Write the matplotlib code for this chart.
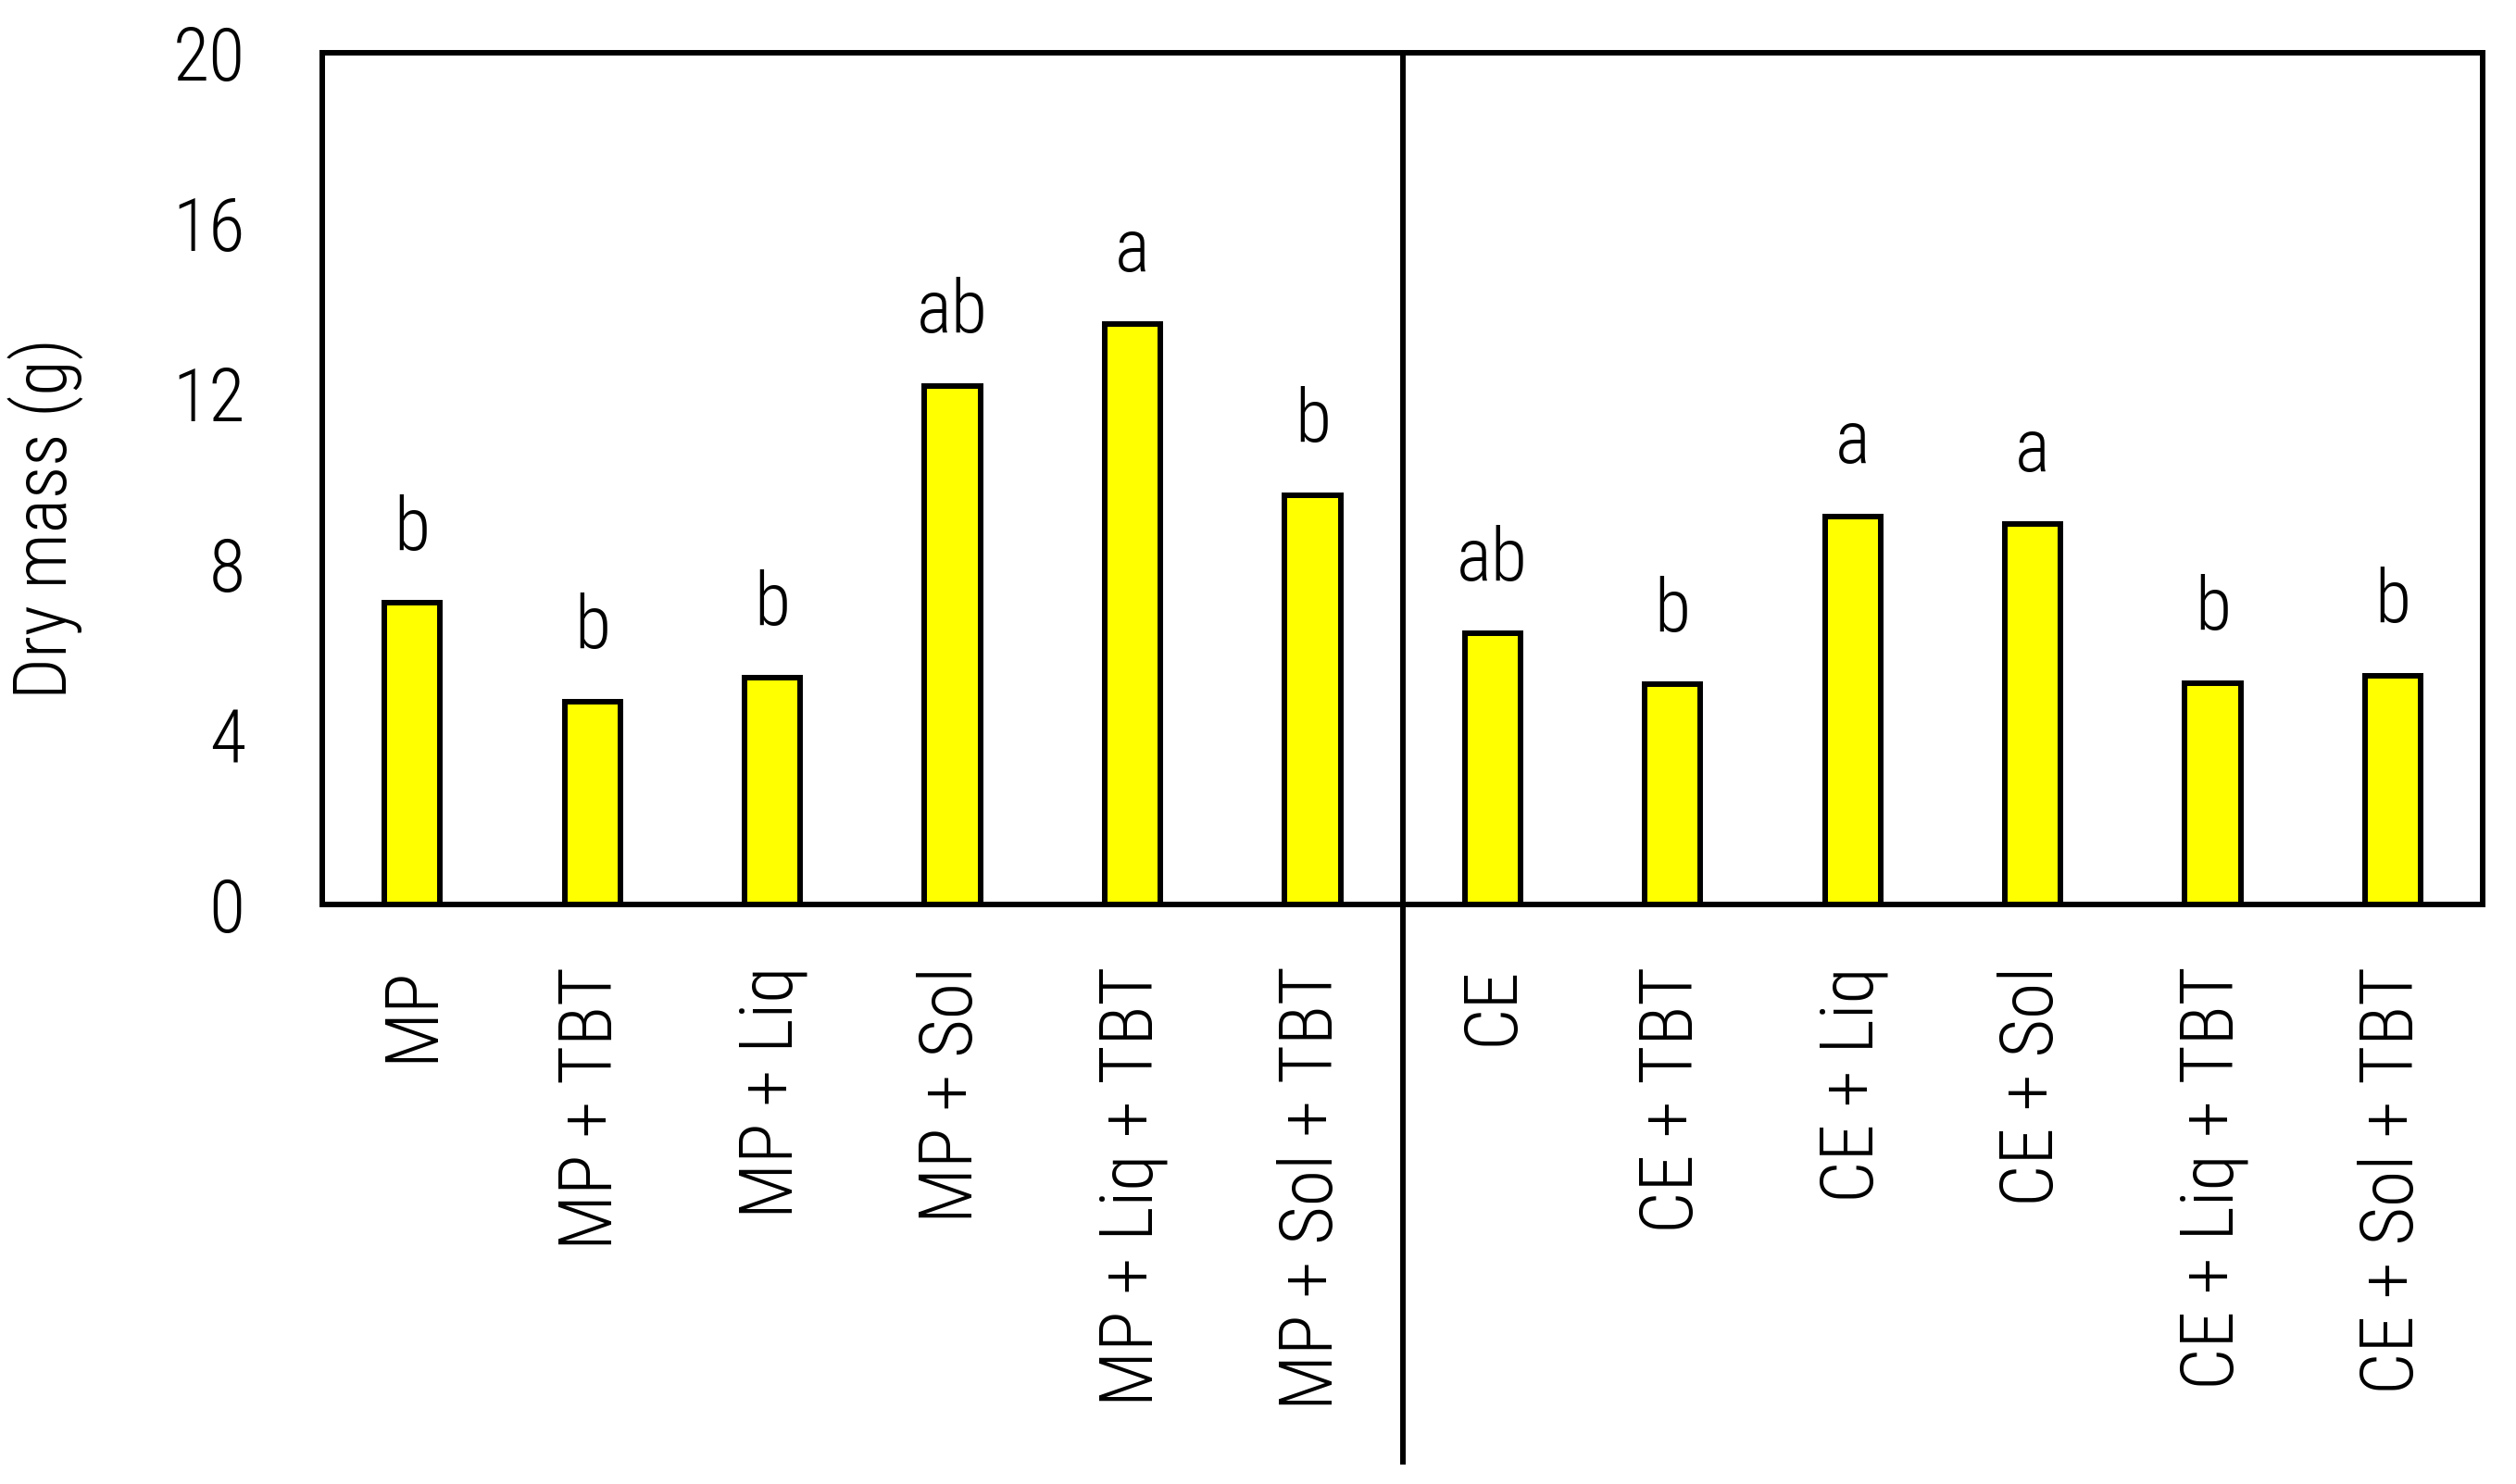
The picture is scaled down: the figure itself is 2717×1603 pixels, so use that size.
import matplotlib
matplotlib.use("Agg")
import matplotlib.pyplot as plt
import matplotlib.transforms as mtransforms
from matplotlib import font_manager as fm

categories = ["MP", "MP + TBT", "MP + Liq", "MP + Sol", "MP + Liq + TBT", "MP + Sol + TBT",
              "CE", "CE + TBT", "CE + Liq", "CE + Sol", "CE + Liq + TBT", "CE + Sol + TBT"]
dry_mass = [7.08, 4.77, 5.32, 12.18, 13.63, 9.61,
            6.36, 5.17, 9.12, 8.93, 5.20, 5.38]
letters = ["b", "b", "b", "ab", "a", "b",
           "ab", "b", "a", "a", "b", "b"]
yticks = [0, 4, 8, 12, 16, 20]


# ---- pick the narrowest sans font that is available ----
def pick_font():
    entries = fm.fontManager.ttflist
    names = {f.name for f in entries}
    for pref in ["Liberation Sans Narrow", "Arial Narrow", "Roboto Condensed",
                 "Open Sans Condensed", "Noto Sans Condensed"]:
        if pref in names:
            return pref, "normal"
    bad = ("Serif", "Mono", "CJK")
    for f in entries:
        if any(b in f.name for b in bad):
            continue
        if ("Narrow" in f.name or "Condensed" in f.name) and f.style == "normal":
            return f.name, "normal"
    for f in entries:
        if any(b in f.name for b in bad):
            continue
        st = f.stretch
        cond = (isinstance(st, str) and "condensed" in st) or (isinstance(st, (int, float)) and st < 500)
        if cond and f.style == "normal" and f.weight in (400, "normal", "regular"):
            return f.name, st
    for pref in ["Liberation Sans", "Roboto", "DejaVu Sans"]:
        if pref in names:
            return pref, "normal"
    return "DejaVu Sans", "normal"


FAM, STRETCH = pick_font()
WEIGHT = "light"
plt.rcParams['font.family'] = [FAM, 'DejaVu Sans']
plt.rcParams['font.stretch'] = STRETCH
plt.rcParams['font.weight'] = WEIGHT
plt.rcParams['axes.labelweight'] = WEIGHT

fig = plt.figure(figsize=(27.17, 16.03), dpi=100)
renderer = fig.canvas.get_renderer()


def size_for(text, target_px, cap_pt):
    t = fig.text(0, 0, text, fontsize=100, family=[FAM, 'DejaVu Sans'],
                 fontstretch=STRETCH, fontweight=WEIGHT)
    w = t.get_window_extent(renderer).width
    t.remove()
    return min(cap_pt, 100.0 * target_px / w)


FS = size_for("MP + Sol + TBT", 480, 63)
FS_Y = size_for("Dry mass (g)", 390, 60)

ax = fig.add_axes([0.1281, 0.3905, 0.8587, 0.5739])

x = list(range(len(categories)))
ax.bar(x, dry_mass, width=0.31, color="#ffff00", edgecolor="black", linewidth=4.3, zorder=2)

for xi, v, lab in zip(x, dry_mass, letters):
    ax.text(xi, v + 1.25, lab, ha="center", va="baseline", fontsize=FS, fontweight=WEIGHT)

ax.set_xlim(-0.5, len(categories) - 0.5)
ax.set_ylim(0, 20)
ax.set_yticks(yticks)
ax.set_yticklabels([str(t) for t in yticks], fontsize=FS, fontweight=WEIGHT)
ax.set_xticks(x)
ax.set_xticklabels(categories, rotation=90, fontsize=FS, va="top", ha="center",
                   fontweight=WEIGHT)
ax.tick_params(axis="both", length=0)
ax.tick_params(axis="y", pad=60)
ax.tick_params(axis="x", pad=48)

for s in ax.spines.values():
    s.set_linewidth(4.3)
    s.set_color("black")

ax.set_ylabel("Dry mass (g)", fontsize=FS_Y, fontweight=WEIGHT)
ax.yaxis.set_label_coords(-0.110, 0.453)

# group divider
trans = mtransforms.blended_transform_factory(ax.transData, ax.transAxes)
ax.plot([5.5, 5.5], [-0.658, 1.0], color="black", linewidth=4.3, transform=trans,
        clip_on=False, zorder=3, solid_capstyle="butt")

fig.savefig("out.png", dpi=100)
